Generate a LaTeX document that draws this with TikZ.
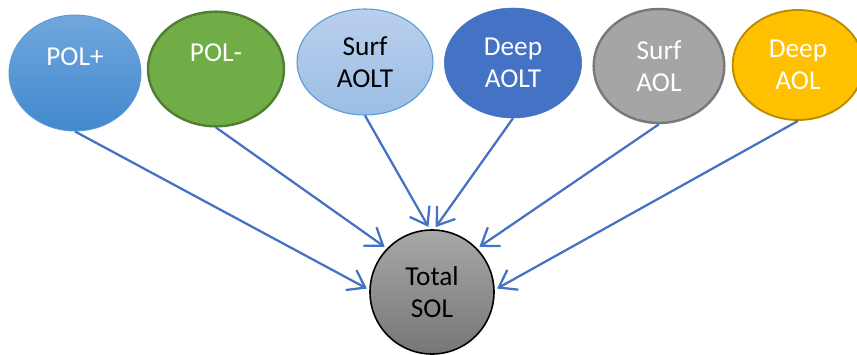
\documentclass[tikz,border=0pt]{standalone}
\usepackage{fontspec}
\setmainfont{Carlito}
\usetikzlibrary{shapes.geometric,arrows.meta}

\definecolor{flowblue}{RGB}{68,114,196}
\definecolor{polpTop}{RGB}{112,167,221}
\definecolor{polpBot}{RGB}{66,136,206}
\definecolor{polpLine}{RGB}{91,155,213}
\definecolor{polmFill}{RGB}{112,173,71}
\definecolor{polmLine}{RGB}{80,126,50}
\definecolor{saoltTop}{RGB}{186,208,237}
\definecolor{saoltBot}{RGB}{155,189,228}
\definecolor{saolFill}{RGB}{165,165,165}
\definecolor{saolLine}{RGB}{120,120,120}
\definecolor{daolFill}{RGB}{255,192,0}
\definecolor{daolLine}{RGB}{188,140,0}
\definecolor{solTop}{RGB}{168,168,168}
\definecolor{solBot}{RGB}{118,118,118}

\tikzset{
  pool/.style={ellipse, inner sep=0pt, align=center, font=\fontsize{20.5}{24}\selectfont},
  flow/.style={draw=flowblue, line width=1.7pt, shorten >=2pt, -{Straight Barb[length=12pt,width=17pt]}}
}

\begin{document}
\begin{tikzpicture}[x=0.75pt,y=0.75pt,yscale=-1,xscale=1]
%frame
\clip (0,0) rectangle (857,354);

%source pools
\node[pool, top color=polpTop, bottom color=polpBot, draw=polpLine, line width=0.7pt, text=white, minimum width=99pt, minimum height=87pt] (polp) at (75,73) {POL+\\\mbox{}};
\node[pool, fill=polmFill, draw=polmLine, line width=1.8pt, text=white, minimum width=102pt, minimum height=86pt] (polm) at (216,69) {POL-\\\mbox{}};
\node[pool, top color=saoltTop, bottom color=saoltBot, draw=polpLine, line width=0.8pt, text=black, minimum width=102pt, minimum height=79.5pt] (saolt) at (365,62) {Surf\\AOLT};
\node[pool, fill=flowblue, draw=flowblue, text=white, minimum width=103pt, minimum height=82.5pt] (daolt) at (513,63) {Deep\\AOLT};
\node[pool, fill=saolFill, draw=saolLine, line width=1.8pt, text=white, minimum width=98pt, minimum height=85.5pt] (saol) at (659,66) {Surf\\AOL};
\node[pool, fill=daolFill, draw=daolLine, line width=1.4pt, text=white, minimum width=98pt, minimum height=82.5pt] (daol) at (798,65) {Deep\\AOL};

%total
\node[pool, circle, top color=solTop, bottom color=solBot, draw=black, line width=1.2pt, text=black, minimum size=93pt] (sol) at (432,292) {Total\\SOL};

%connectors
\draw[flow] (polp.south) -- (sol.178);
\draw[flow] (polm.south) -- (sol.136);
\draw[flow] (saolt.south) -- (sol.92);
\draw[flow] (daolt.south) -- (sol.88);
\draw[flow] (saol.south) -- (sol.44);
\draw[flow] (daol.south) -- (sol.2);
\end{tikzpicture}
\end{document}
